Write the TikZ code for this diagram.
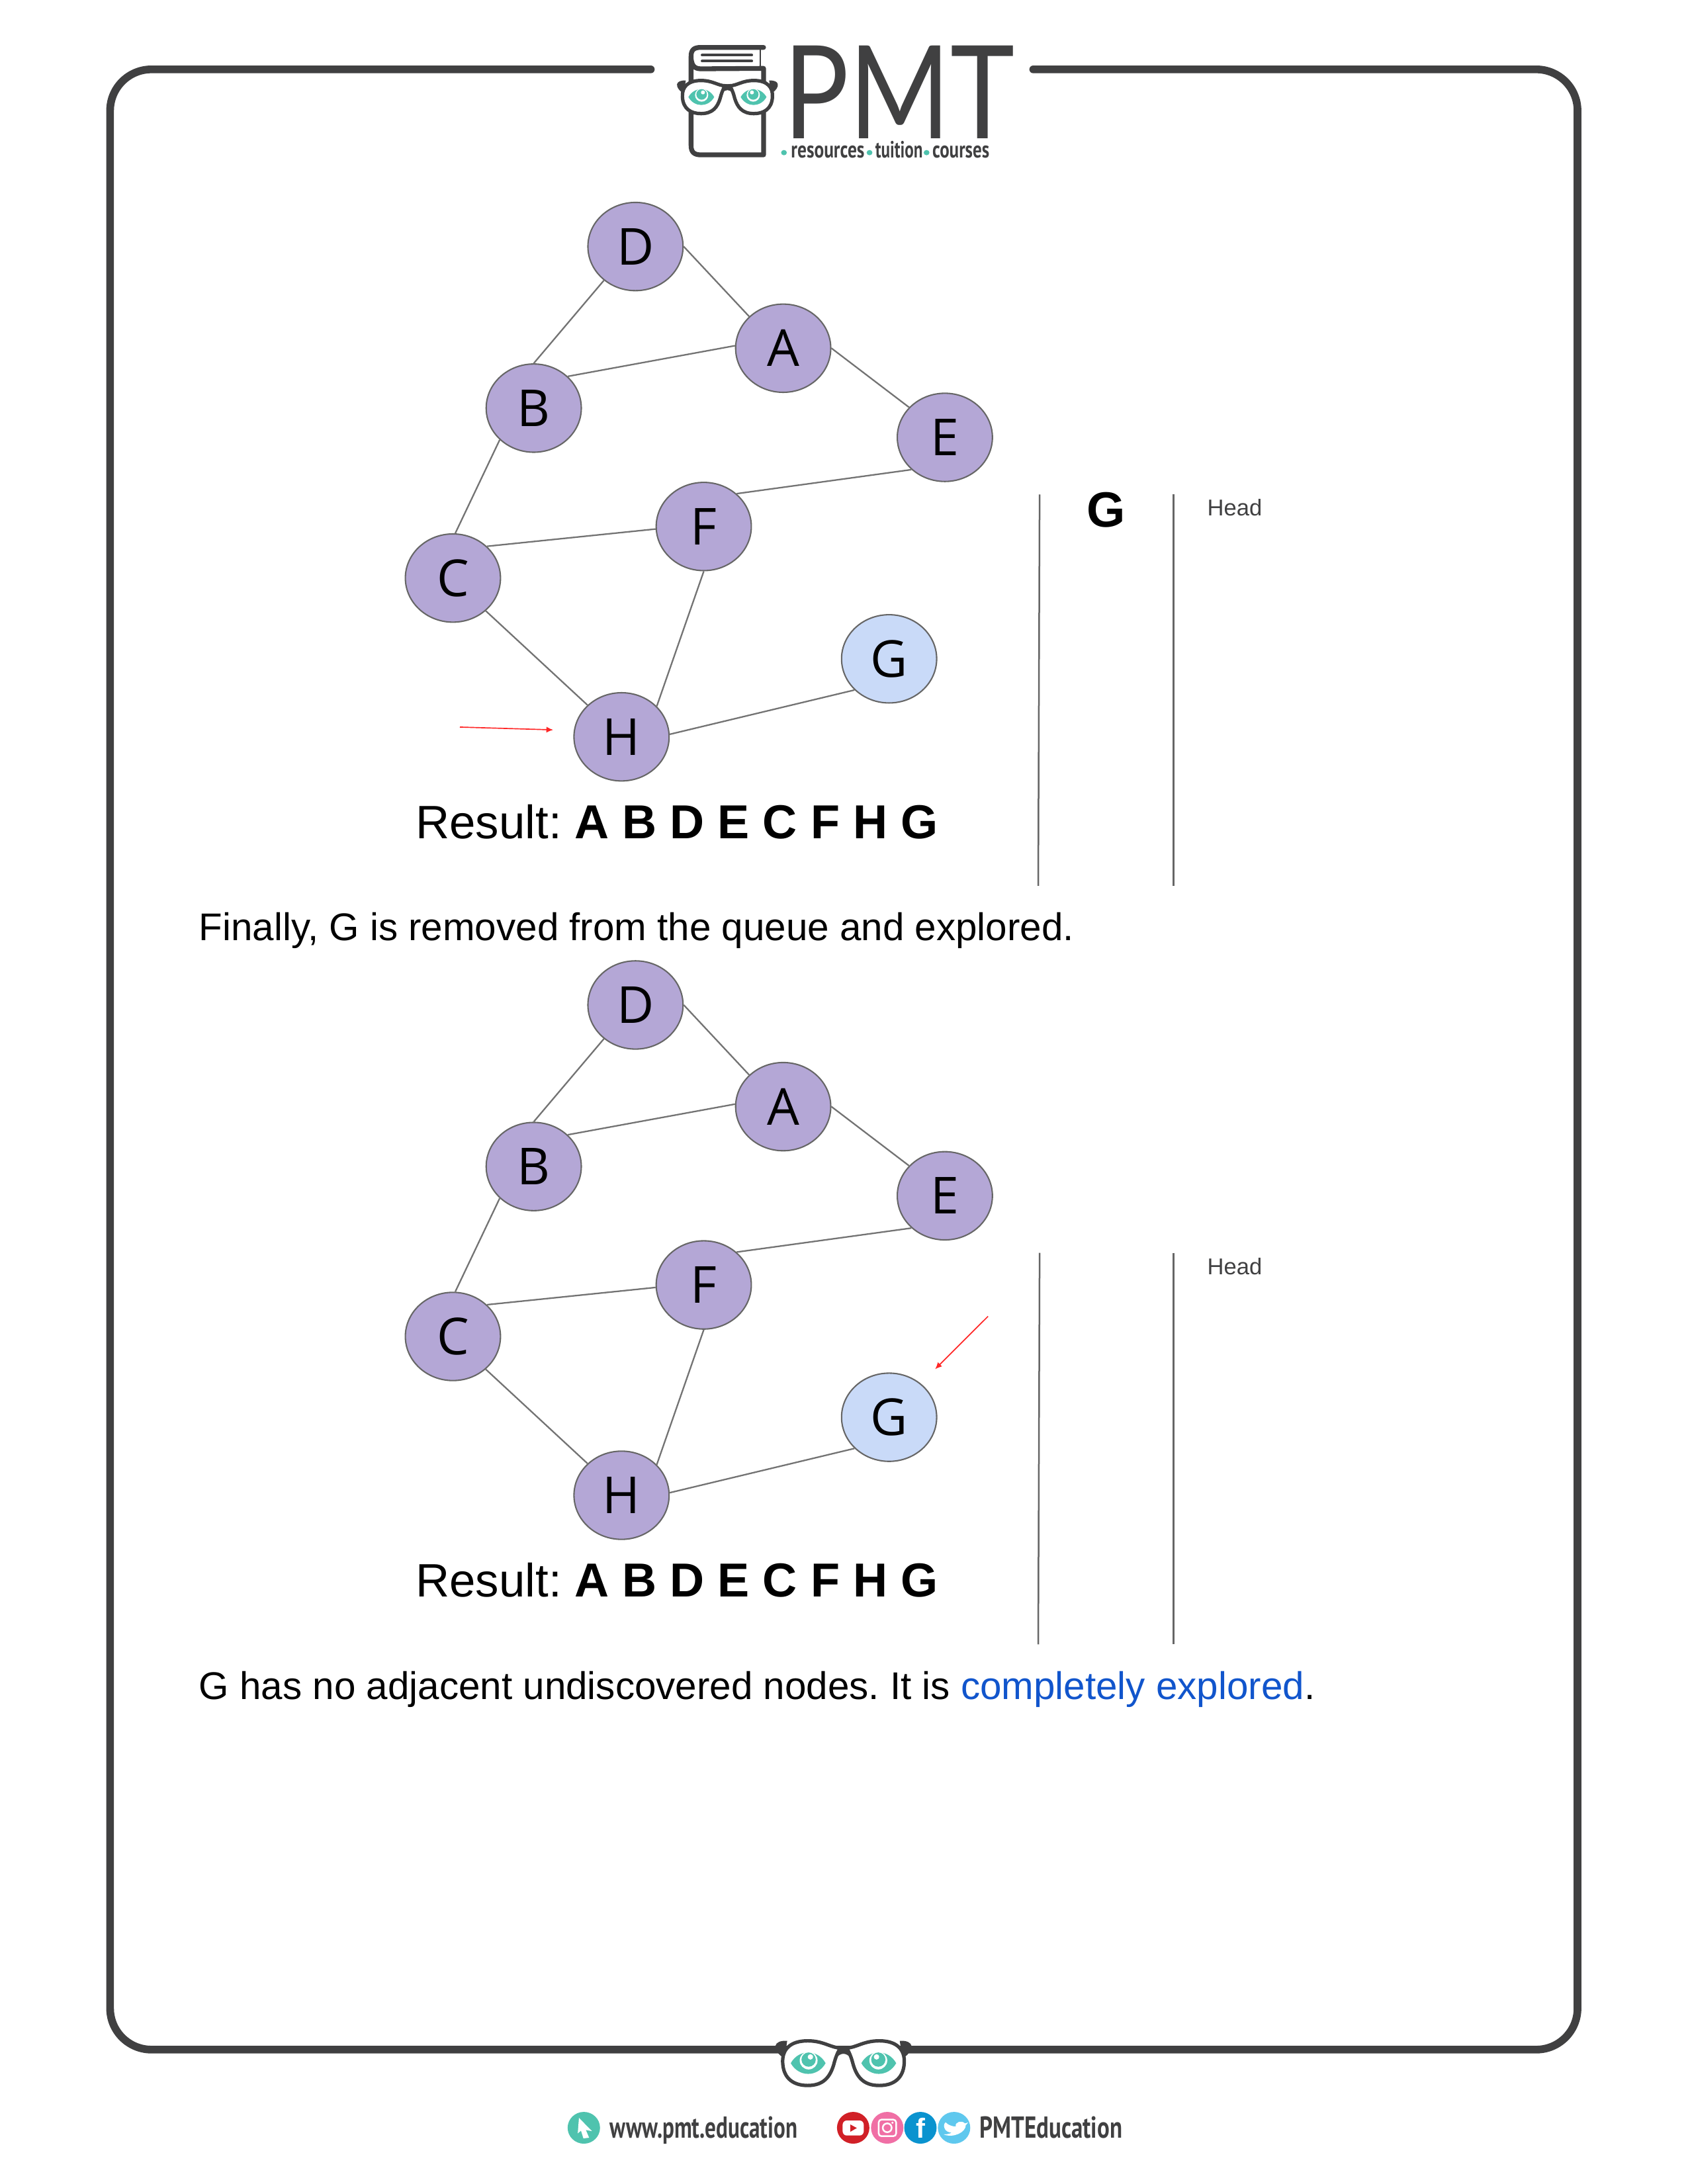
\documentclass[tikz,border=0pt]{standalone}
\usepackage{fontspec}
\setmainfont{Liberation Sans}
\newfontfamily\graphfont{Open Sans}
\newfontfamily\logofont{Lato}
\newfontfamily\narrowfont{PT Sans}
\usetikzlibrary{shapes.geometric,arrows.meta}
\frenchspacing
\definecolor{pmtdark}{HTML}{404041}
\definecolor{pmtteal}{HTML}{4FC3AE}
\definecolor{visited}{HTML}{B4A7D6}
\definecolor{current}{HTML}{C9DAF8}
\definecolor{linkblue}{HTML}{1155CC}
\definecolor{youtube}{HTML}{D12027}
\definecolor{insta}{HTML}{F06FA5}
\definecolor{facebook}{HTML}{0A93CF}
\definecolor{twitter}{HTML}{5FC8EE}
\tikzset{
	vertex/.style={draw=black!60,line width=.5pt,ellipse,minimum width=34.5pt,minimum height=32pt,inner sep=0pt,font=\graphfont\fontsize{18.5}{20}\selectfont},
	edge/.style={draw=black!55,line width=.55pt},
	rule/.style={draw=black!60,line width=.6pt},
	pointer/.style={draw=red!85!white,line width=.4pt,-{Latex[length=2.5pt,width=2.2pt]}},
	result/.style={anchor=base west,inner sep=0pt,font=\fontsize{17}{20}\selectfont},
	sentence/.style={anchor=base west,inner sep=0pt,font=\fontsize{14}{17}\selectfont},
	logotext/.style={anchor=base west,inner sep=0pt,text=pmtdark,font=\narrowfont\bfseries\fontsize{8.5}{8.5}\selectfont},
	foottext/.style={anchor=base west,inner sep=0pt,text=pmtdark,font=\narrowfont\bfseries\fontsize{11}{11}\selectfont},
	glasses/.pic={
		\begin{scope}[x=.24pt,y=-.24pt]
			\foreach \sd in {1,-1}{
				\begin{scope}[xscale=\sd]
					\fill[pmtdark] (-63,-5) .. controls (-78,-6) and (-82,4) .. (-66,15) -- cycle;
					\draw[pmtdark,fill=white,line width=1.25pt] (-3,3) .. controls (-14,3) and (-22,-5) .. (-40,-5) .. controls (-60,-5) and (-69,5) .. (-68,20) .. controls (-67,38) and (-55,45) .. (-40,45) .. controls (-22,45) and (-15,35) .. (-11,22) .. controls (-9,14) and (-6,6) .. (-3,3) -- cycle;
					\fill[pmtteal] (-59,20) .. controls (-50,4) and (-29,4) .. (-20,20) .. controls (-29,36) and (-50,36) .. cycle;
					\fill[white] (-39,17) circle (10);
					\fill[pmtteal] (-39,16) circle (8);
					\fill[white] (-37,13) circle (3);
				\end{scope}
			}
			\fill[pmtdark] (-4,1) -- (4,1) -- (8,14) .. controls (3,8) and (-3,8) .. (-8,14) -- cycle;
		\end{scope}
	}
}
\begin{document}
\begin{tikzpicture}[x=.5054pt,y=-.5052pt]
	\useasboundingbox (0,0) rectangle (1211,1568);
	% frame
	\coordinate (framel) at (467,49.8);
	\coordinate (framer) at (741.4,49.8);
	\draw[pmtdark,line width=2.8pt,line cap=round,rounded corners=15pt] (framel) -- (79,49.8) -- (79,1471.5) -- (1132,1471.5) -- (1132,49.8) -- (framer);

	% the two graphs
	\foreach \g/\dy in {p/0,q/544.5}{
		\begin{scope}[shift={(0,\dy)}]
			\node[vertex,fill=visited] (\g d) at (456,177) {D};
			\node[vertex,fill=visited] (\g a) at (562,250) {A};
			\node[vertex,fill=visited] (\g b) at (383,293) {B};
			\node[vertex,fill=visited] (\g e) at (678,314) {E};
			\node[vertex,fill=visited] (\g f) at (505,378) {F};
			\node[vertex,fill=visited] (\g c) at (325,415) {C};
			\node[vertex,fill=current] (\g g) at (638,473) {G};
			\node[vertex,fill=visited] (\g h) at (446,529) {H};

			\foreach \s/\sa/\e/\ea in {d/0/a/137,b/43/a/177,a/0/e/140,d/227/b/90,b/223/c/87,c/43/f/183,f/45/e/224,c/-45/h/137,f/270/h/41,h/3/g/222}
				\draw[edge] (\g\s.\sa) -- (\g\e.\ea);

			\node[result] (\g res) at (298,602) {Result: {\bfseries\fontsize{17.3}{20}\selectfont A B D E C F H G}};

			\coordinate (\g lt) at (746,355);
			\coordinate (\g lb) at (745,636);
			\coordinate (\g rt) at (842,355);
			\coordinate (\g rb) at (842,636);
			\draw[rule] (\g lt) -- (\g lb);
			\draw[rule] (\g rt) -- (\g rb);
			\node[text=pmtdark,font=\fontsize{8.3}{10}\selectfont,inner sep=0pt] (\g head) at (886,364.5) {Head};
		\end{scope}
	}
	\node[font=\bfseries\fontsize{18}{20}\selectfont,inner sep=0pt] (qitem) at (793.5,366) {G};

	% red arrows
	\coordinate (arrowa) at (330,522);
	\coordinate (arrowb) at (397,524);
	\draw[pointer] (arrowa) -- (arrowb);
	\coordinate (arrowc) at (709,945);
	\coordinate (arrowd) at (671,983);
	\draw[pointer] (arrowc) -- (arrowd);

	% sentences
	\node[sentence] (first) at (142.5,675) {Finally, G is removed from the queue and explored.};
	\node[sentence] (second) at (142.5,1220) {G has no adjacent undiscovered nodes. It is \textcolor{linkblue}{completely explored}.};

	% logo
	\begin{scope}[shift={(455.9,14.25)},x=.0949pt,y=-.08pt]
		\draw[pmtdark,line width=1.75pt,line cap=round,line join=round] (490,125) -- (250,125) .. controls (225,125) and (213,135) .. (213,165) -- (213,570) .. controls (213,600) and (225,612) .. (250,612) -- (490,612) -- (490,220) -- (250,222) .. controls (225,222) and (213,205) .. (213,165);
		\draw[pmtdark,line width=.5pt] (477,130) -- (477,215);
		\draw[pmtdark,line width=.95pt,line cap=round] (255,160) -- (445,160);
		\draw[pmtdark,line width=.95pt,line cap=round] (255,187) -- (445,187);
		\coordinate (logoeyes) at (352,290);
		\pic at (logoeyes) {glasses};
		\node[anchor=base west,inner sep=0pt,text=pmtdark,font=\logofont\fontsize{47}{47}\selectfont] (pmt) at (565,537) {\scalebox{.84}[1]{PMT}};
		\fill[pmtteal] (568,602) circle [x radius=11,y radius=12];
		\fill[pmtteal] (895,602) circle [x radius=11,y radius=12];
		\fill[pmtteal] (1113,602) circle [x radius=11,y radius=12];
		\node[logotext] (res) at (593,625) {\scalebox{.773}[1]{resources}};
		\node[logotext] (tui) at (915,625) {\scalebox{.71}[1]{tuition}};
		\node[logotext] (cou) at (1133,625) {\scalebox{.762}[1]{courses}};
	\end{scope}

	% footer
	\begin{scope}[shift={(370.4,1443.7)},x=.1469pt,y=-.08pt]
		\coordinate (footeyes) at (808,156);
		\pic[scale=1.35] at (footeyes) {glasses};
		\fill[pmtteal] (167,530) circle [x radius=40,y radius=72];
		\fill[white] (155,485) -- (187,545) -- (172,540) -- (180,575) -- (166,578) -- (160,543) -- (152,555) -- cycle;
		\node[foottext] (web) at (230,576) {\scalebox{.723}[1]{www.pmt.education}};
		\fill[youtube] (832,530) circle [x radius=40,y radius=72];
		\fill[white,rounded corners=1.5pt] (806,497) rectangle (858,565);
		\fill[youtube] (825,515) -- (841,531) -- (825,548) -- cycle;
		\fill[insta] (916,530) circle [x radius=40,y radius=72];
		\draw[white,line width=.6pt,rounded corners=1pt] (895,493) rectangle (938,568);
		\draw[white,line width=.6pt] (916,530) circle [x radius=11,y radius=20];
		\fill[white] (929,507) circle [x radius=3,y radius=5];
		\fill[facebook] (998,530) circle [x radius=40,y radius=72];
		\node[text=white,inner sep=0pt,font=\bfseries\fontsize{10}{10}\selectfont] (fb) at (998,532) {f};
		\fill[twitter] (1081,530) circle [x radius=40,y radius=72];
		\fill[white] (1060,505) .. controls (1068,520) and (1078,524) .. (1085,524) .. controls (1083,503) and (1100,495) .. (1108,510) -- (1116,506) -- (1110,518) .. controls (1110,550) and (1080,578) .. (1055,560) .. controls (1065,560) and (1072,556) .. (1075,552) .. controls (1066,550) and (1062,545) .. (1060,540) .. controls (1056,530) and (1054,515) .. (1060,505) -- cycle;
		\node[foottext] (social) at (1143,577) {\scalebox{.762}[1]{PMTEducation}};
	\end{scope}
\end{tikzpicture}
\end{document}
